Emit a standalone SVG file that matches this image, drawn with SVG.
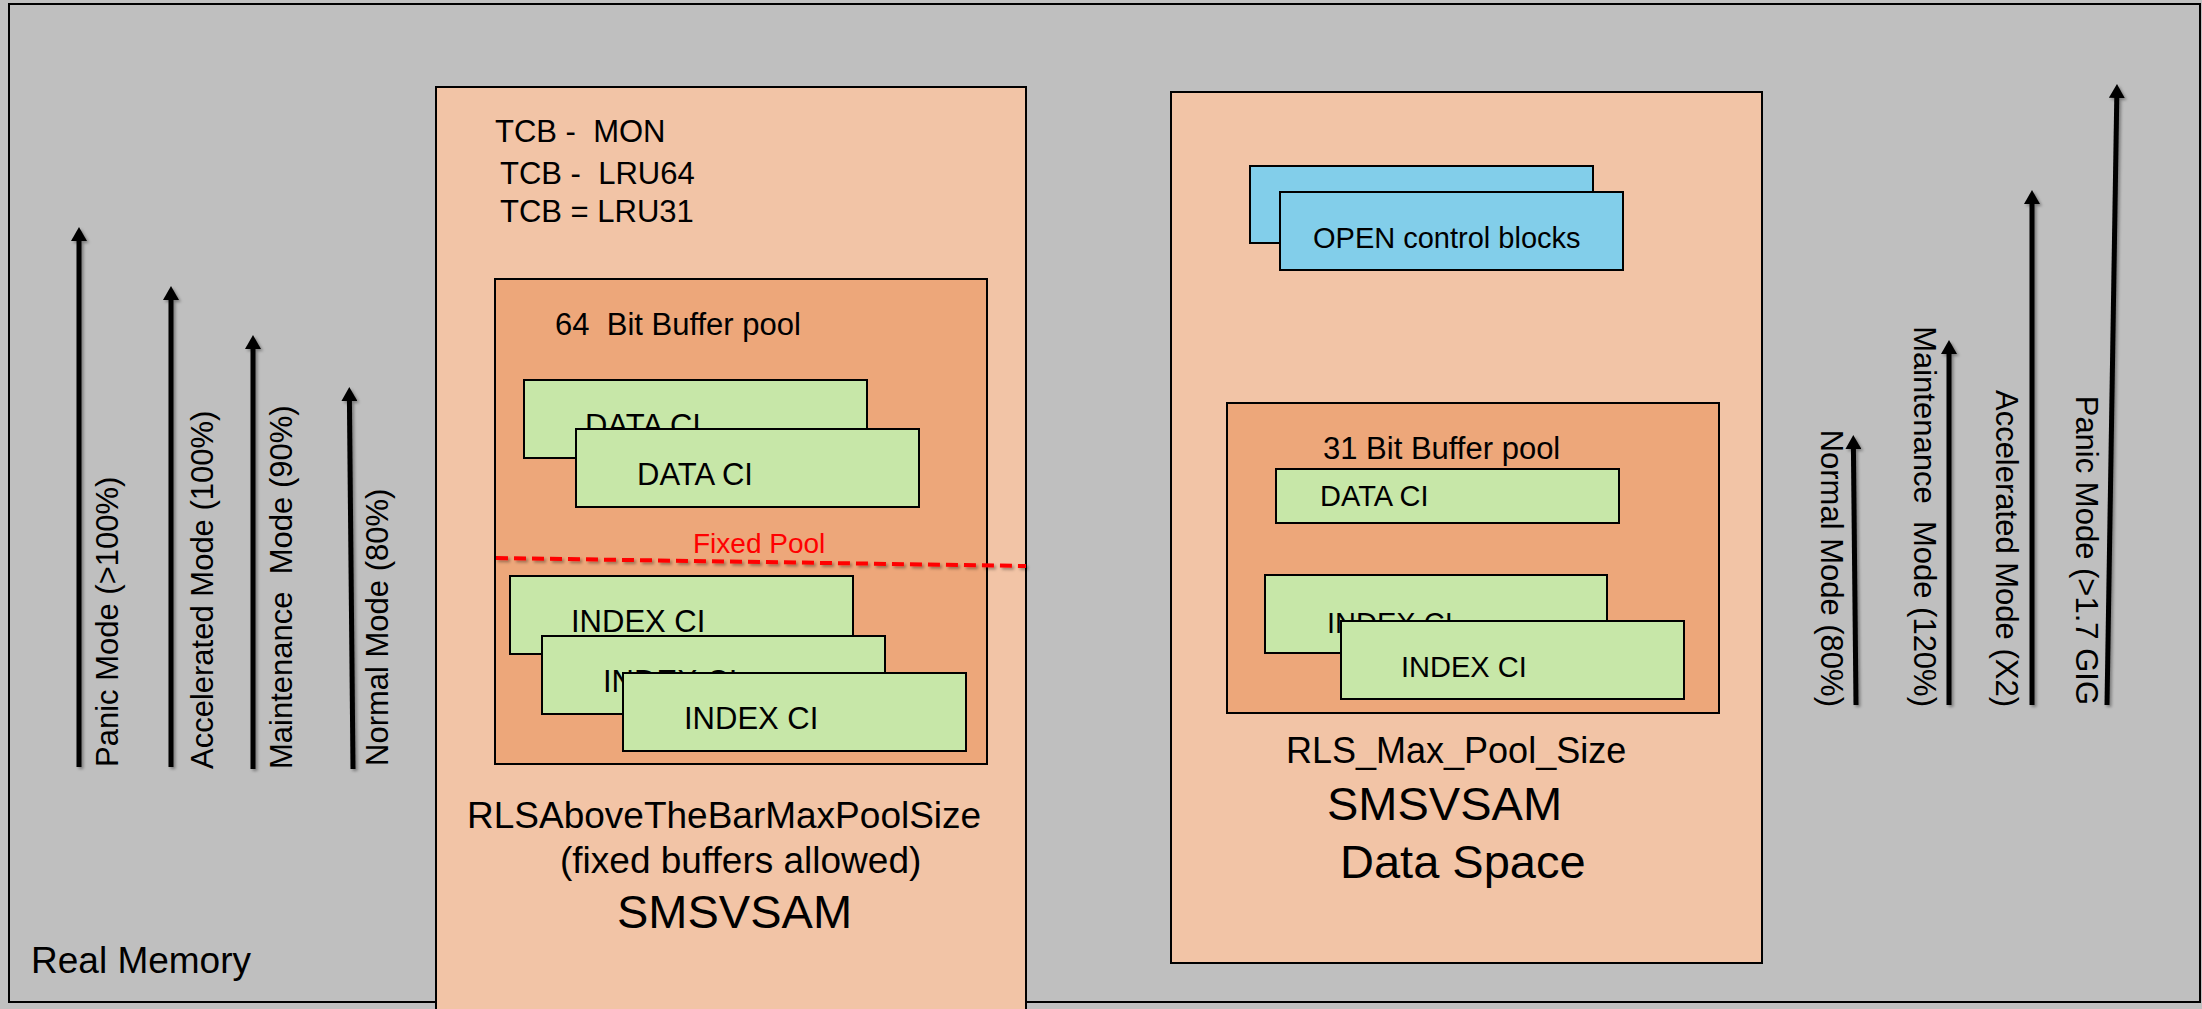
<svg xmlns="http://www.w3.org/2000/svg" width="2202" height="1009" viewBox="0 0 2202 1009">
<defs>
<style>
text{font-family:"Liberation Sans",Arial,sans-serif;fill:#000;white-space:pre}
.box{stroke:#000;stroke-width:2}
.outer{fill:#F2C4A6}
.pool{fill:#EDA77A}
.ci{fill:#C7E7A8}
.blue{fill:#82CEEA}
.lbl{font-size:31px}
.ci29{font-size:29px}
.big{font-size:37px}
.huge{font-size:47px}
.arrow{stroke:#000;stroke-width:5;fill:none;marker-end:url(#head);filter:url(#sh)}
</style>
<marker id="head" markerUnits="userSpaceOnUse" markerWidth="16" markerHeight="16" refX="2" refY="8" orient="auto">
<path d="M0,0 L14,8 L0,16 Z" fill="#000"/>
</marker>
<filter id="sh" filterUnits="userSpaceOnUse" x="0" y="0" width="2202" height="1009">
<feDropShadow dx="2" dy="2" stdDeviation="1.5" flood-color="#000" flood-opacity="0.35"/>
</filter>
</defs>
<rect x="0" y="0" width="2202" height="1009" fill="#C0C0C0"/>
<g id="real-memory">
<rect x="9" y="4" width="2191" height="998" fill="#BFBFBF" stroke="#000" stroke-width="2"/>
<text x="31" y="973" style="font-size:37px">Real Memory</text>
</g>
<g id="left-mode-labels" class="lbl">
<text transform="translate(118,767) rotate(-90)">Panic Mode (&gt;100%)</text>
<text transform="translate(213,769) rotate(-90)">Accelerated Mode (100%)</text>
<text transform="translate(292,769) rotate(-90)">Maintenance  Mode (90%)</text>
<text transform="translate(388,766) rotate(-90)">Normal Mode (80%)</text>
</g>
<g id="right-mode-labels" class="lbl">
<text transform="translate(1821,707) rotate(90)" text-anchor="end">Normal Mode (80%)</text>
<text transform="translate(1914,707) rotate(90)" text-anchor="end">Maintenance  Mode (120%)</text>
<text transform="translate(1996,707) rotate(90)" text-anchor="end">Accelerated Mode (X2)</text>
<text transform="translate(2076,705) rotate(90)" text-anchor="end">Panic Mode (&gt;1.7 GIG</text>
</g>
<g id="smsvsam">
<rect class="box outer" x="436" y="87" width="590" height="940"/>
<text class="lbl" x="495" y="142">TCB -  MON</text>
<text class="lbl" x="500" y="184">TCB -  LRU64</text>
<text class="lbl" x="500" y="222">TCB = LRU31</text>
<text class="big" x="467" y="828">RLSAboveTheBarMaxPoolSize</text>
<text class="big" x="560" y="873">(fixed buffers allowed)</text>
<text class="huge" x="617" y="928">SMSVSAM</text>
</g>
<g id="pool64">
<rect class="box pool" x="495" y="279" width="492" height="485"/>
<text class="lbl" x="555" y="335">64  Bit Buffer pool</text>
<text x="693" y="553" style="font-size:28px;fill:#FF0000">Fixed Pool</text>
</g>
<g id="data-ci-64-a">
<rect class="box ci" x="524" y="380" width="343" height="78"/>
<text class="lbl" x="585" y="436">DATA CI</text>
</g>
<g id="data-ci-64-b">
<rect class="box ci" x="576" y="429" width="343" height="78"/>
<text class="lbl" x="637" y="485">DATA CI</text>
</g>
<g id="index-ci-64-a">
<rect class="box ci" x="510" y="576" width="343" height="78"/>
<text class="lbl" x="571" y="632">INDEX CI</text>
</g>
<g id="index-ci-64-b">
<rect class="box ci" x="542" y="636" width="343" height="78"/>
<text class="lbl" x="603" y="692">INDEX CI</text>
</g>
<g id="index-ci-64-c">
<rect class="box ci" x="623" y="673" width="343" height="78"/>
<text class="lbl" x="684" y="729">INDEX CI</text>
</g>
<g id="data-space">
<rect class="box outer" x="1171" y="92" width="591" height="871"/>
<text style="font-size:36px" x="1286" y="763">RLS_Max_Pool_Size</text>
<text class="huge" x="1327" y="820">SMSVSAM</text>
<text class="huge" x="1340" y="878">Data Space</text>
</g>
<g id="open-cb-a">
<rect class="box blue" x="1250" y="166" width="343" height="77"/>
</g>
<g id="open-cb-b">
<rect class="box blue" x="1280" y="192" width="343" height="78"/>
<text class="ci29" x="1313" y="248">OPEN control blocks</text>
</g>
<g id="pool31">
<rect class="box pool" x="1227" y="403" width="492" height="310"/>
<text class="lbl" x="1323" y="459">31 Bit Buffer pool</text>
</g>
<g id="data-ci-31">
<rect class="box ci" x="1276" y="469" width="343" height="54"/>
<text class="ci29" x="1320" y="506">DATA CI</text>
</g>
<g id="index-ci-31-a">
<rect class="box ci" x="1265" y="575" width="342" height="78"/>
<text class="ci29" x="1327" y="633">INDEX CI</text>
</g>
<g id="index-ci-31-b">
<rect class="box ci" x="1341" y="621" width="343" height="78"/>
<text class="ci29" x="1401" y="677">INDEX CI</text>
</g>
<g id="connectors">
<line x1="496" y1="558" x2="1026" y2="566" stroke="#FF0000" stroke-width="4" stroke-dasharray="12 6" filter="url(#sh)"/>
<line class="arrow" x1="79" y1="767" x2="79" y2="239"/>
<line class="arrow" x1="171" y1="767" x2="171" y2="298"/>
<line class="arrow" x1="253" y1="769" x2="253" y2="347"/>
<line class="arrow" x1="353" y1="769" x2="349.4" y2="399"/>
<line class="arrow" x1="1856" y1="705" x2="1853.4" y2="447"/>
<line class="arrow" x1="1949" y1="705" x2="1949" y2="352"/>
<line class="arrow" x1="2032" y1="705" x2="2032" y2="202"/>
<line class="arrow" x1="2107" y1="705" x2="2116.8" y2="96"/>
</g>
</svg>
